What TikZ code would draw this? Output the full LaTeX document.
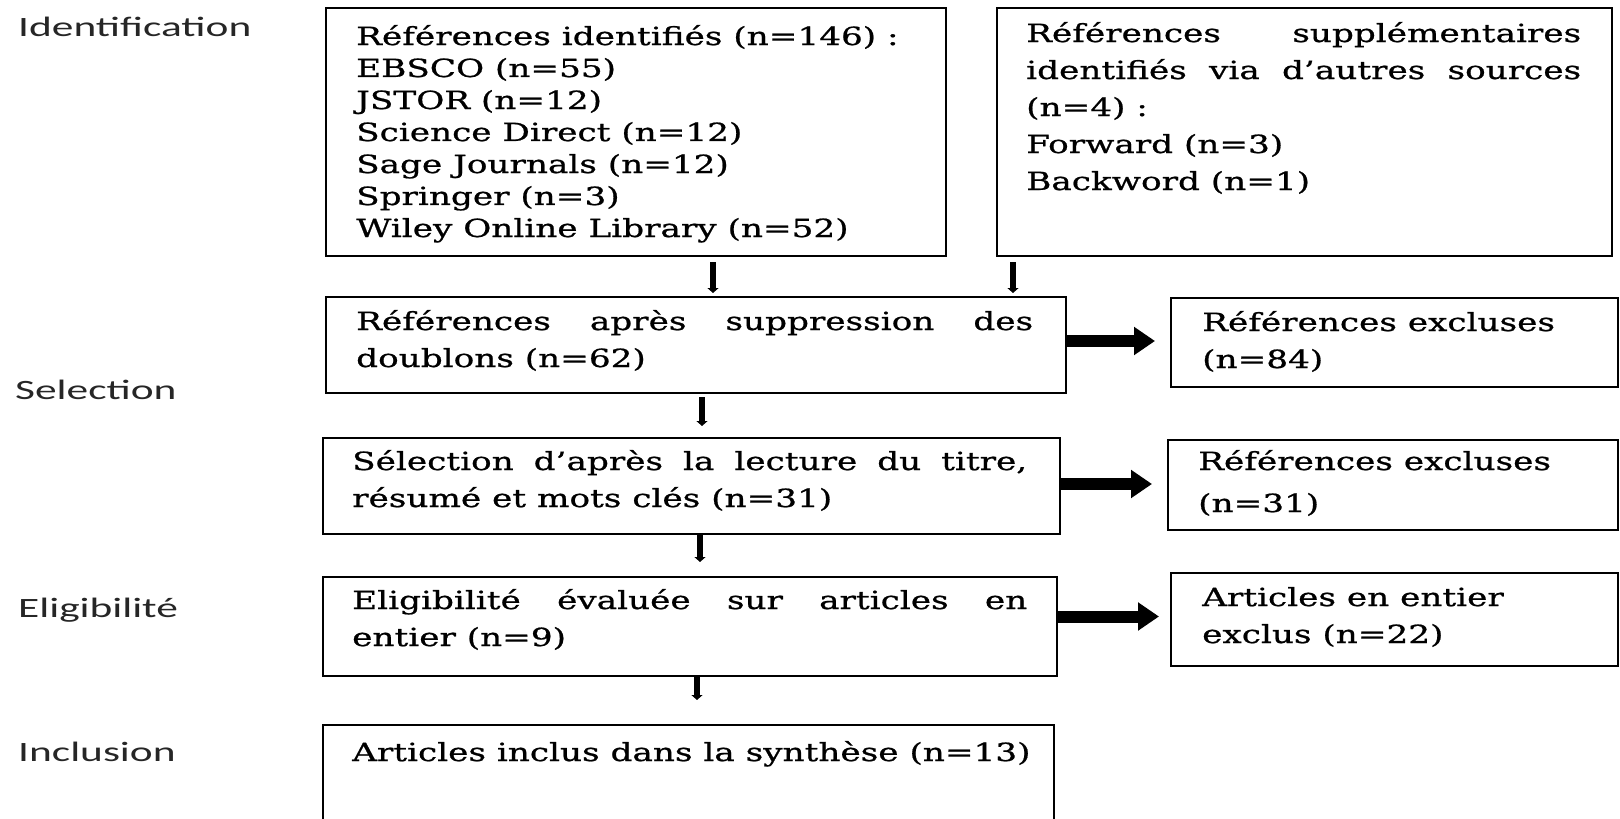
\documentclass[tikz,border=0pt]{standalone}
\usepackage{fontspec}
\setmainfont{DejaVu Serif}[FakeStretch=1.37,FakeBold=0.8]
\newfontfamily\stagefont{Carlito}[FakeStretch=1.55]
\usetikzlibrary{arrows.meta,calc}
\hyphenpenalty=10000
\exhyphenpenalty=10000
\begin{document}
\begin{tikzpicture}[x=1pt,y=-1pt,
  box/.style={draw,line width=1.8pt,anchor=north west,inner sep=0pt,outer sep=0pt},
  txt/.style={anchor=base west,inner sep=0pt,align=justify,font=\fontsize{25}{37}\selectfont},
  txttight/.style={txt,font=\fontsize{25}{32}\selectfont},
  stage/.style={anchor=base west,inner sep=0pt,text=black!85,font=\stagefont\fontsize{28}{34}\selectfont},
  varrow/.style={line width=6pt,-{Triangle[width=11pt,length=5pt]}},
  harrow/.style={line width=12pt,-{Triangle[width=27pt,length=21pt]}}
]
\useasboundingbox (0,0) rectangle (1620,819);
\clip (0,0) rectangle (1620,819);

% stage labels
\node[stage] (l1) at (18,36) {Identification};
\node[stage] (l2) at (15,399) {Selection};
\node[stage] (l3) at (18,617) {Eligibilité};
\node[stage] (l4) at (18,761) {Inclusion};

% boxes
\node[box,minimum width=620pt,minimum height=248pt] (b1) at (326,8) {};
\node[box,minimum width=615pt,minimum height=248pt] (b2) at (997,8) {};
\node[box,minimum width=740pt,minimum height=96pt] (b3) at (326,297) {};
\node[box,minimum width=447pt,minimum height=89pt] (b4) at (1171,298) {};
\node[box,minimum width=737pt,minimum height=96pt] (b5) at (323,438) {};
\node[box,minimum width=450pt,minimum height=90pt] (b6) at (1168,440) {};
\node[box,minimum width=734pt,minimum height=99pt] (b7) at (323,577) {};
\node[box,minimum width=447pt,minimum height=93pt] (b8) at (1171,573) {};
\node[box,minimum width=731pt,minimum height=120pt] (b9) at (323,725) {};

% texts
\node[txttight,text width=590pt] (t1) at (356,45) {Références identifiés (n=146) :\\EBSCO (n=55)\\JSTOR (n=12)\\Science Direct (n=12)\\Sage Journals (n=12)\\Springer (n=3)\\Wiley Online Library (n=52)};
\node[txt,text width=555pt] (t2) at (1026,42) {Références supplémentaires\linebreak identifiés via d’autres sources\linebreak (n=4) :\\Forward (n=3)\\Backword (n=1)};
\node[txt,text width=677pt] (t3) at (356,330) {Références après suppression des\linebreak doublons (n=62)};
\node[txt,text width=400pt] (t4) at (1202,331) {Références excluses\\(n=84)};
\node[txt,text width=675pt] (t5) at (352,470) {Sélection d’après la lecture du titre,\linebreak résumé et mots clés (n=31)};
\node[txt,text width=400pt] (t6) at (1198,470) {Références excluses\\[5pt](n=31)};
\node[txt,text width=675pt] (t7) at (352,609) {Eligibilité évaluée sur articles en\linebreak entier (n=9)};
\node[txt,text width=400pt] (t8) at (1202,606) {Articles en entier\\exclus (n=22)};
\node[txt,text width=690pt] (t9) at (352,761) {Articles inclus dans la synthèse (n=13)};

% vertical arrows
\draw[varrow] ($(b1.south west)+(387,6)$) -- ($(b1.south west |- b3.north)+(387,-4)$);
\draw[varrow] ($(b2.south west)+(16,6)$) -- ($(b2.south west |- b3.north)+(16,-4)$);
\draw[varrow] ($(b3.south west)+(376,4)$) -- ($(b3.south west |- b5.north)+(376,-12)$);
\draw[varrow] ($(b5.south west)+(377,1)$) -- ($(b5.south west |- b7.north)+(377,-15)$);
\draw[varrow] ($(b7.south west)+(374,1)$) -- ($(b7.south west |- b9.north)+(374,-25)$);

% horizontal arrows
\draw[harrow] ($(b3.east)+(0,-4)$) -- ($(b4.west |- b3.east)+(-16,-4)$);
\draw[harrow] ($(b5.east)+(0,-2)$) -- ($(b6.west |- b5.east)+(-16,-2)$);
\draw[harrow] ($(b7.east)+(0,-10)$) -- ($(b8.west |- b7.east)+(-12,-10)$);
\end{tikzpicture}
\end{document}
